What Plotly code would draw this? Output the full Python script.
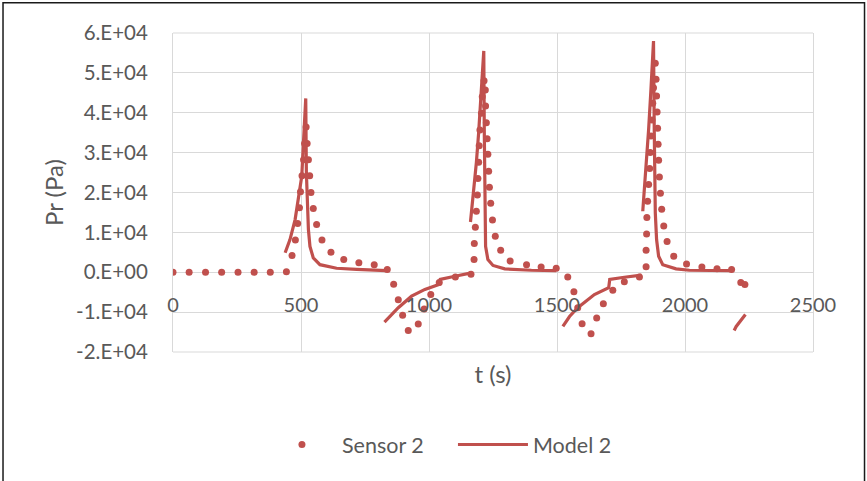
import plotly.graph_objects as go

# ---- data ----
sensor_t = [0, 63, 127, 190, 254, 317, 380, 443,
            465, 478, 487, 494, 498, 504, 510, 514, 520,
            524, 529, 534, 539, 548, 561, 582, 617, 667, 726, 786, 837,
            862, 880, 897, 919, 958, 981, 1007, 1040, 1103, 1164,
            1176, 1177, 1181, 1185, 1189, 1191, 1194, 1196, 1199, 1205, 1208, 1215,
            1220, 1221, 1224, 1227, 1230, 1233, 1236, 1241, 1248, 1259, 1280, 1317,
            1381, 1438, 1497,
            1542, 1566, 1581, 1598, 1633, 1655, 1681, 1718, 1763, 1822,
            1848, 1848, 1850, 1851, 1854, 1858, 1862, 1864, 1867, 1871, 1874, 1877, 1884,
            1887, 1889, 1891, 1893, 1895, 1897, 1900, 1904, 1909, 1917, 1930, 1956,
            2006, 2066, 2125, 2182, 2218, 2234]
sensor_p = [0, 0, 0, 0, 0, 0, 0, 100,
            4200, 8100, 12200, 16200, 20200, 24200, 28200, 32300, 36400,
            32300, 28200, 24200, 20000, 16000, 12000, 8100, 5000, 3200, 2400, 1900, 700,
            -3000, -6900, -10800, -14600, -13000, -9200, -5600, -2600, -1200, -500,
            3200, 7200, 11300, 15300, 19400, 23500, 27600, 31700, 35700, 39900, 44000, 48000,
            45700, 41700, 37500, 33500, 29600, 25300, 21300, 17300, 13100, 9000, 5500, 2800,
            1900, 1300, 1000,
            -1200, -4900, -8900, -12900, -15400, -11500, -7900, -4500, -2400, -1200,
            1400, 5500, 9600, 13700, 17800, 22000, 26000, 30000, 34200, 38200, 42400, 46300, 52400,
            48400, 44200, 40200, 36100, 32100, 28100, 23900, 19800, 15800, 11600, 7700, 4000,
            2100, 1300, 900, 700, -2600, -3100]

# model: separate segments, joined with gaps (None)
model_t = [438, 457, 477, 490, 503, 509, 516, 518.5,
           521, 529, 535, 548, 574, 639, 717, 834, None,
           826, 854, 880, 932, 984, 1041, 1044, 1101, 1166, None,
           1162, 1175, 1185, 1194, 1205, 1214,
           1216, 1218, 1221, 1230, 1250, 1296, 1400, 1497, None,
           1523, 1549, 1581, 1646, 1702, 1706, 1763, 1815, 1830, None,
           1835, 1848, 1858, 1867, 1877,
           1880, 1884, 1889, 1897, 1913, 1965, 2017, 2100, 2186, None,
           2192, 2200, 2236]
model_p = [4900, 8200, 13200, 18300, 24100, 31700, 40000, 43600,
           25000, 10700, 6500, 3600, 1900, 1000, 700, 400, None,
           -12500, -10600, -8900, -6000, -4300, -3000, -1800, -1000, -150, None,
           12600, 20800, 27500, 35000, 45900, 55500,
           35000, 12400, 6500, 3200, 1700, 850, 500, 400, None,
           -13600, -11100, -8900, -5600, -3900, -1800, -1250, -750, -700, None,
           15300, 25800, 35900, 45900, 58000,
           35000, 14900, 8200, 4000, 1900, 850, 500, 450, 400, None,
           -14600, -13600, -10600]

x_ticks = [0, 500, 1000, 1500, 2000, 2500]
y_ticks = [-20000, -10000, 0, 10000, 20000, 30000, 40000, 50000, 60000]
y_ticktext = ["-2.E+04", "-1.E+04", "0.E+00", "1.E+04", "2.E+04",
              "3.E+04", "4.E+04", "5.E+04", "6.E+04"]

RED = "#C0504D"
GREY_TXT = "#595959"
GRID = "#D9D9D9"
FONT = "Lato"

fig = go.Figure()
fig.add_trace(go.Scatter(
    x=sensor_t, y=sensor_p, mode="markers", name="Sensor 2",
    marker=dict(color=RED, size=7, line=dict(width=0)),
))
fig.add_trace(go.Scatter(
    x=model_t, y=model_p, mode="lines", name="Model 2",
    line=dict(color=RED, width=3.2), connectgaps=False,
))

fig.update_layout(
    width=867, height=481,
    margin=dict(l=173, r=54, t=33, b=129),
    paper_bgcolor="white", plot_bgcolor="white",
    font=dict(family=FONT, color=GREY_TXT, size=20),
    showlegend=True,
    legend=dict(orientation="h", x=0.139, xanchor="left", y=-0.29, yanchor="middle",
                font=dict(family=FONT, size=21.5, color=GREY_TXT),
                itemwidth=70, entrywidth=106, entrywidthmode="pixels",
                bgcolor="rgba(0,0,0,0)", tracegroupgap=0),
    xaxis=dict(range=[0, 2500], tickvals=x_ticks, ticktext=[str(v) for v in x_ticks],
               showgrid=True, gridcolor=GRID, gridwidth=1, zeroline=False,
               showline=False, ticks="", anchor="free", position=0.19,
               tickfont=dict(family=FONT, size=20, color=GREY_TXT),
               title=dict(text="t (s)", font=dict(family=FONT, size=24, color=GREY_TXT),
                          standoff=50)),
    yaxis=dict(range=[-20000, 60000], tickvals=y_ticks, ticktext=y_ticktext,
               showgrid=True, gridcolor=GRID, gridwidth=1, zeroline=False,
               showline=True, mirror=True, linecolor=GRID, linewidth=1,
               ticks="outside", ticklen=20, tickcolor="rgba(0,0,0,0)",
               tickfont=dict(family=FONT, size=20.5, color=GREY_TXT),
               title=dict(text="Pr (Pa)", font=dict(family=FONT, size=24, color=GREY_TXT),
                          standoff=5)),
    shapes=[
        dict(type="rect", xref="paper", yref="paper",
             x0=-0.2656, x1=1.0805, y0=-0.415, y1=1.095,
             line=dict(color="#1a1a1a", width=1.5), fillcolor="rgba(0,0,0,0)", layer="above"),
        dict(type="line", xref="paper", yref="paper", x0=0, x1=1, y0=1, y1=1,
             line=dict(color=GRID, width=1), layer="below"),
        dict(type="line", xref="paper", yref="paper", x0=0, x1=1, y0=0, y1=0,
             line=dict(color=GRID, width=1), layer="below"),
    ],
)

fig.write_html("out.html", config={"displayModeBar": False},
               post_script="document.body.style.margin='0';document.body.style.overflow='hidden';")
